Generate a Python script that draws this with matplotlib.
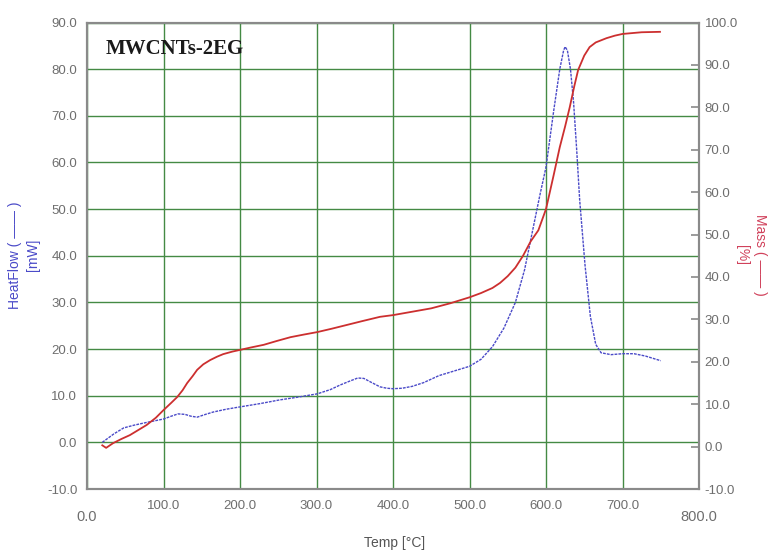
import matplotlib

matplotlib.use("Agg")
import matplotlib.pyplot as plt

plt.rcParams["font.family"] = ["Liberation Sans", "DejaVu Sans"]

# heat flow curve (left axis, mW)
heat_temp = [20, 35, 48, 62, 76, 88, 100, 110, 119, 128, 136, 144, 155, 165, 182, 200,
             226, 252, 276, 301, 318, 331, 343, 354, 362, 370, 383, 392, 400, 412, 425,
             440, 460, 480, 500, 515, 530, 545, 560, 572, 582, 592, 600, 610, 618, 623,
             625, 628, 632, 636, 640, 644, 651, 658, 665, 672, 685, 700, 715, 730, 750]
heat_flow = [0.0, 1.8, 3.1, 3.7, 4.2, 4.6, 5.0, 5.6, 6.1, 6.0, 5.6, 5.4, 6.0, 6.5, 7.1, 7.6,
             8.3, 9.1, 9.7, 10.4, 11.3, 12.3, 13.1, 13.8, 13.7, 13.0, 11.9, 11.6, 11.5, 11.6, 12.0,
             12.8, 14.3, 15.3, 16.3, 17.8, 20.5, 24.5, 30.0, 37.0, 45.0, 53.0, 59.0, 71.0, 80.0, 84.0,
             84.8, 84.0, 80.0, 73.0, 63.0, 52.0, 38.0, 27.0, 21.0, 19.2, 18.8, 19.0, 19.0, 18.5, 17.5]

# mass curve (right axis, %)
mass_temp = [20, 25, 34, 45, 56, 67, 78, 90, 100, 110, 118, 125, 131, 138, 144, 152, 161,
             170, 178, 190, 200, 215, 231, 248, 266, 283, 301, 320, 340, 360, 383, 400, 425,
             450, 475, 500, 515, 530, 540, 550, 560, 570, 580, 590, 600, 610, 618, 625, 631,
             637, 642, 650, 657, 665, 679, 690, 700, 725, 749]
mass_pct = [0.3, -0.3, 0.8, 1.8, 2.7, 3.9, 5.1, 6.8, 8.6, 10.3, 11.7, 13.3, 15.0, 16.6, 18.1, 19.4, 20.4,
            21.2, 21.8, 22.4, 22.8, 23.4, 24.0, 24.9, 25.8, 26.4, 27.0, 27.8, 28.7, 29.6, 30.6, 31.0, 31.8,
            32.6, 33.8, 35.2, 36.2, 37.4, 38.6, 40.2, 42.2, 45.0, 48.4, 51.0, 56.0, 64.0, 70.6, 75.5, 80.0,
            85.0, 88.8, 92.2, 94.2, 95.3, 96.3, 96.9, 97.3, 97.7, 97.8]

x_ticks = [0, 100, 200, 300, 400, 500, 600, 700, 800]
left_ticks = [-10, 0, 10, 20, 30, 40, 50, 60, 70, 80, 90]
right_ticks = [-10, 0, 10, 20, 30, 40, 50, 60, 70, 80, 90, 100]

GRID = "#448a44"
FRAME = "#8a8a8a"
TICKTXT = "#6e6e6e"

fig = plt.figure(figsize=(7.7, 5.52), dpi=100)
ax = fig.add_axes([87 / 770, 1 - 489 / 552, (699 - 87) / 770, (489 - 22.5) / 552])
ax2 = ax.twinx()

ax.set_xlim(0, 800)
ax.set_ylim(-10, 90)
ax2.set_ylim(-10, 100)

ax.grid(True, color=GRID, linewidth=1.0)
ax.set_axisbelow(True)

ax.plot(heat_temp, heat_flow, color="#4a4ac8", linewidth=1.0, linestyle=(0, (2.0, 0.8)), zorder=3)
ax2.plot(mass_temp, mass_pct, color="#cc2f2f", linewidth=1.3, zorder=3)

ax.set_xticks(x_ticks)
ax.set_xticklabels(["" if v in (0, 800) else f"{v:.1f}" for v in x_ticks])
ax.tick_params(axis="x", length=0, pad=8, labelsize=9.5, labelcolor=TICKTXT)
# end labels sit a little lower than the others
for v in (0, 800):
    ax.text(v, -0.06, f"{v:.1f}", transform=ax.get_xaxis_transform(), ha="center", va="center",
            fontsize=10.5, color=TICKTXT)

ax.set_yticks(left_ticks)
ax.set_yticklabels([f"{v:.1f}" for v in left_ticks])
ax.tick_params(axis="y", length=0, pad=7, labelsize=9.5, labelcolor=TICKTXT)

ax2.set_yticks(right_ticks)
ax2.set_yticklabels([f"{v:.1f}" for v in right_ticks])
ax2.tick_params(axis="y", direction="in", length=6, width=1.2, color=FRAME, pad=4,
                labelsize=9.5, labelcolor=TICKTXT)

for a in (ax, ax2):
    for sp in a.spines.values():
        sp.set_color(FRAME)
        sp.set_linewidth(1.5)

ax.text(0.031, 0.943, "MWCNTs-2EG", transform=ax.transAxes, ha="left", va="center",
        fontsize=15, fontweight="bold", family=["Liberation Serif", "DejaVu Serif"], color="#1a1a1a")

fig.text(24 / 770, 1 - 255 / 552, "HeatFlow ( —— )\n[mW]", rotation=90, ha="center", va="center",
         multialignment="center", fontsize=10, color="#4a4ac8", linespacing=1.3)
fig.text(751 / 770, 1 - 255 / 552, "Mass ( —— )\n[%]", rotation=270, ha="center", va="center",
         multialignment="center", fontsize=10, color="#d0405a", linespacing=1.3)
fig.text(395 / 770, 1 - 543 / 552, "Temp [°C]", ha="center", va="center", fontsize=10, color="#555555")

fig.savefig("out.png", dpi=100)
